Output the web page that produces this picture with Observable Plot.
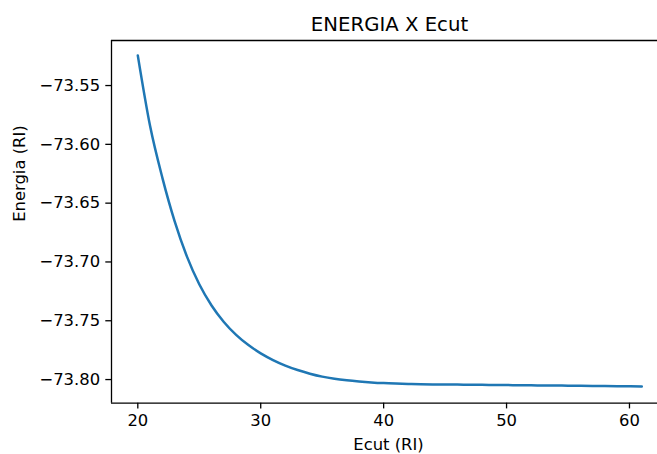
<!DOCTYPE html>
<html>
<head>
<meta charset="utf-8">
<script src="https://cdn.jsdelivr.net/npm/d3@7"></script>
<script src="https://cdn.jsdelivr.net/npm/@observablehq/plot@0.6"></script>
<style>
  html, body { margin: 0; padding: 0; background: #fff; overflow: hidden; }
</style>
</head>
<body>
<div id="chart"></div>
<script>
const title = "ENERGIA X Ecut";
const xLabel = "Ecut (RI)";
const yLabel = "Energia (RI)";

const ecut = [20, 21, 22, 23, 24, 25, 26, 27, 28, 29,
              30, 31, 32, 33, 34, 35, 36, 37, 38, 39,
              40, 41, 42, 43, 44, 45, 46, 47, 48, 49,
              50, 51, 52, 53, 54, 55, 56, 57, 58, 59, 60, 61];
const energia = [-73.5245, -73.5845, -73.6285, -73.6655, -73.6955, -73.7190, -73.7370, -73.7510, -73.7620, -73.7707,
                 -73.7777, -73.7834, -73.7881, -73.7919, -73.7950, -73.7975, -73.7993, -73.8006, -73.8016, -73.8024,
                 -73.8030, -73.8034, -73.8037, -73.8039, -73.8041, -73.8042, -73.8043, -73.8044, -73.8045, -73.8046,
                 -73.8047, -73.8048, -73.8049, -73.8050, -73.8051, -73.8052, -73.8053, -73.8054, -73.8055, -73.8056,
                 -73.8057, -73.8058];

const xTicks = [20, 30, 40, 50, 60];
const yTicks = [-73.80, -73.75, -73.70, -73.65, -73.60, -73.55];
const xDomain = [17.86, 62.28];
const yDomain = [-73.8201, -73.5117];

const data = ecut.map((x, i) => ({x, y: energia[i]}));

const spine = {stroke: "#000", strokeWidth: 1.3};

const chart = Plot.plot({
  width: 657,
  height: 454,
  marginLeft: 111,
  marginRight: 0,
  marginTop: 40,
  marginBottom: 51.3,
  style: {fontFamily: "DejaVu Sans", fontSize: "16.4px", color: "#000", background: "#fff"},
  x: {domain: xDomain},
  y: {domain: yDomain},
  marks: [
    Plot.axisX(xTicks, {tickSize: 5.7, tickPadding: 5.7, label: null, strokeWidth: 1.3, fontSize: 16.4}),
    Plot.axisY(yTicks, {tickSize: 5.7, tickPadding: 5.7, label: null, strokeWidth: 1.3, fontSize: 16.4, tickFormat: d3.format(".2f")}),
    Plot.line(data, {x: "x", y: "y", stroke: "#1f77b4", strokeWidth: 2.5, curve: "monotone-x"}),
    Plot.ruleY([yDomain[0]], spine),
    Plot.ruleY([yDomain[1]], spine),
    Plot.ruleX([xDomain[0]], spine),
    Plot.text([title], {frameAnchor: "top", lineAnchor: "bottom", dy: -9.5, dx: 5, fontSize: 19.7, fill: "#000"}),
    Plot.text([xLabel], {frameAnchor: "bottom", lineAnchor: "bottom", dy: 46.5, dx: 4, fontSize: 16.4, fill: "#000"}),
    Plot.text([yLabel], {frameAnchor: "left", lineAnchor: "bottom", rotate: -90, dx: -87, fontSize: 16.4, fill: "#000"})
  ]
});
document.getElementById("chart").appendChild(chart);
</script>
</body>
</html>
